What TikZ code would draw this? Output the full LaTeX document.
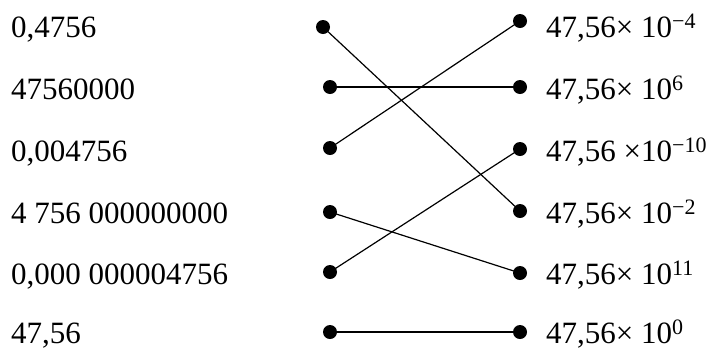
\documentclass[tikz,border=0pt]{standalone}
\usepackage{fontspec}
\setmainfont{Liberation Serif}
\newcommand\ex[1]{\raisebox{9pt}{\fontsize{22}{22}\selectfont #1}}
\begin{document}
\begin{tikzpicture}[x=1pt,y=-1pt,
  lbl/.style={anchor=base west,inner sep=0pt,font=\fontsize{31}{36}\selectfont},
  dot/.style={circle,fill=black,inner sep=0pt,minimum size=14pt},
  link/.style={line width=1.2pt}]
\useasboundingbox (0,0) rectangle (710,349);
% left labels
\node[lbl] (a1) at (11,37)  {0,4756};
\node[lbl] (a2) at (11,99)  {47560000};
\node[lbl] (a3) at (11,161) {0,004756};
\node[lbl] (a4) at (11,223) {4 756 000000000};
\node[lbl] (a5) at (11,284) {0,000 000004756};
\node[lbl] (a6) at (11,343) {47,56};
% right labels
\node[lbl] (b1) at (546,37)  {47,56× 10\ex{−4}};
\node[lbl] (b2) at (546,99)  {47,56× 10\ex{6}};
\node[lbl] (b3) at (546,161) {47,56 ×10\ex{−10}};
\node[lbl] (b4) at (546,223) {47,56× 10\ex{−2}};
\node[lbl] (b5) at (546,284) {47,56× 10\ex{11}};
\node[lbl] (b6) at (546,343) {47,56× 10\ex{0}};
% left dots
\node[dot] (l1) at (323,27) {};
\node[dot] (l2) at (330,87) {};
\node[dot] (l3) at (330,148) {};
\node[dot] (l4) at (330,212) {};
\node[dot] (l5) at (330,272) {};
\node[dot] (l6) at (330,332) {};
% right dots
\node[dot] (r1) at (520,21) {};
\node[dot] (r2) at (520,87) {};
\node[dot] (r3) at (520,149) {};
\node[dot] (r4) at (520,211) {};
\node[dot] (r5) at (520,273) {};
\node[dot] (r6) at (520,332) {};
% connectors
\draw[link] (l1.center) -- (r4.center);
\draw[link] (l2.center) -- (r2.center);
\draw[link] (l3.center) -- (r1.center);
\draw[link] (l4.center) -- (r5.center);
\draw[link] (l5.center) -- (r3.center);
\draw[link] (l6.center) -- (r6.center);
\end{tikzpicture}
\end{document}
